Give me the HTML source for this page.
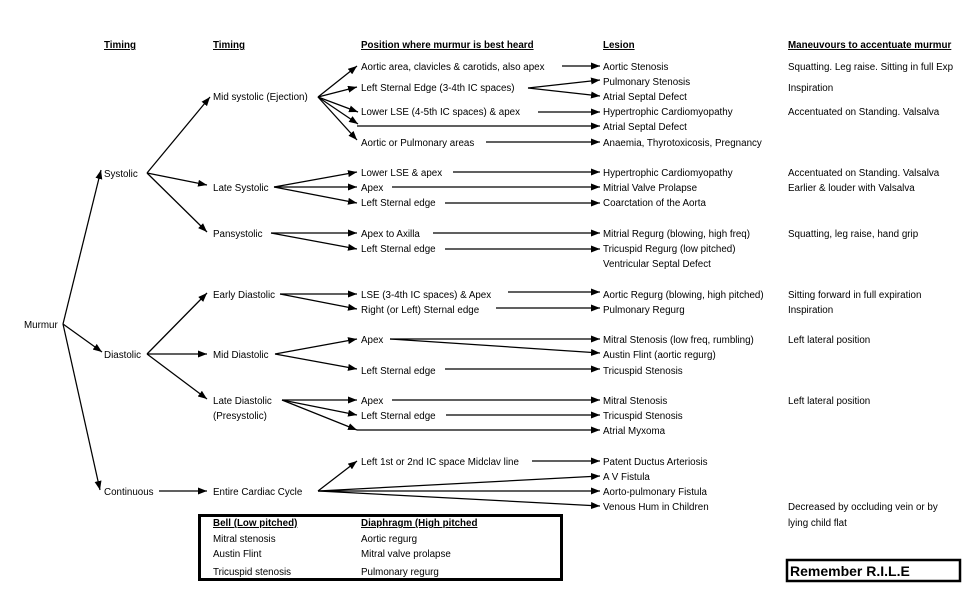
<!DOCTYPE html>
<html><head><meta charset="utf-8"><style>
html,body{margin:0;padding:0;background:#fff;}
svg{display:block;}
text{font-family:"Liberation Sans",Arial,sans-serif;font-size:9.8px;fill:#000;}
.h{font-weight:bold;text-decoration:underline;}
</style></head><body>
<svg width="980" height="597" viewBox="0 0 980 597" xmlns="http://www.w3.org/2000/svg">
<defs><marker id="a" markerWidth="9" markerHeight="7" refX="9" refY="3.5" orient="auto" markerUnits="userSpaceOnUse"><path d="M0,0 L9,3.5 L0,7 z" fill="#000"/></marker></defs>
<g stroke="#000" stroke-width="1.25" fill="none" marker-end="url(#a)">
<line x1="63" y1="324" x2="101" y2="170"/>
<line x1="63" y1="324" x2="102" y2="352"/>
<line x1="63" y1="324" x2="100" y2="490"/>
<line x1="147" y1="173" x2="210" y2="97"/>
<line x1="147" y1="173" x2="207" y2="185"/>
<line x1="147" y1="173" x2="207" y2="232"/>
<line x1="147" y1="354" x2="207" y2="293"/>
<line x1="147" y1="354" x2="207" y2="354"/>
<line x1="147" y1="354" x2="207" y2="399"/>
<line x1="159" y1="491" x2="207" y2="491"/>
<line x1="318" y1="97" x2="357" y2="66"/>
<line x1="318" y1="97" x2="357" y2="87"/>
<line x1="318" y1="97" x2="358" y2="112"/>
<line x1="318" y1="97" x2="358" y2="124"/>
<line x1="318" y1="97" x2="357" y2="140"/>
<line x1="562" y1="66" x2="600" y2="66"/>
<line x1="528" y1="88" x2="600" y2="80"/>
<line x1="528" y1="88" x2="600" y2="96"/>
<line x1="538" y1="112" x2="600" y2="112"/>
<line x1="357" y1="126" x2="600" y2="126"/>
<line x1="486" y1="142" x2="600" y2="142"/>
<line x1="274" y1="187" x2="357" y2="172"/>
<line x1="274" y1="187" x2="357" y2="187"/>
<line x1="274" y1="187" x2="357" y2="203"/>
<line x1="453" y1="172" x2="600" y2="172"/>
<line x1="392" y1="187" x2="600" y2="187"/>
<line x1="445" y1="203" x2="600" y2="203"/>
<line x1="271" y1="233" x2="357" y2="233"/>
<line x1="271" y1="233" x2="357" y2="249"/>
<line x1="433" y1="233" x2="600" y2="233"/>
<line x1="445" y1="249" x2="600" y2="249"/>
<line x1="280" y1="294" x2="357" y2="294"/>
<line x1="280" y1="294" x2="357" y2="309"/>
<line x1="508" y1="292" x2="600" y2="292"/>
<line x1="496" y1="308" x2="600" y2="308"/>
<line x1="275" y1="354" x2="357" y2="339"/>
<line x1="275" y1="354" x2="357" y2="369"/>
<line x1="390" y1="339" x2="600" y2="339"/>
<line x1="390" y1="339" x2="600" y2="353"/>
<line x1="445" y1="369" x2="600" y2="369"/>
<line x1="282" y1="400" x2="357" y2="400"/>
<line x1="282" y1="400" x2="357" y2="415"/>
<line x1="282" y1="400" x2="357" y2="430"/>
<line x1="392" y1="400" x2="600" y2="400"/>
<line x1="446" y1="415" x2="600" y2="415"/>
<line x1="357" y1="430" x2="600" y2="430"/>
<line x1="318" y1="491" x2="357" y2="461"/>
<line x1="532" y1="461" x2="600" y2="461"/>
<line x1="318" y1="491" x2="600" y2="476"/>
<line x1="318" y1="491" x2="600" y2="491"/>
<line x1="318" y1="491" x2="600" y2="506"/>
</g>
<text class="h" x="104" y="48">Timing</text>
<text class="h" x="213" y="48">Timing</text>
<text class="h" x="361" y="48">Position where murmur is best heard</text>
<text class="h" x="603" y="48">Lesion</text>
<text class="h" x="788" y="48">Maneuvours to accentuate murmur</text>
<text x="24" y="328">Murmur</text>
<text x="104" y="177">Systolic</text>
<text x="104" y="358">Diastolic</text>
<text x="104" y="495">Continuous</text>
<text x="213" y="100">Mid systolic (Ejection)</text>
<text x="213" y="191">Late Systolic</text>
<text x="213" y="237">Pansystolic</text>
<text x="213" y="298">Early Diastolic</text>
<text x="213" y="358">Mid Diastolic</text>
<text x="213" y="404">Late Diastolic</text>
<text x="213" y="419">(Presystolic)</text>
<text x="213" y="495">Entire Cardiac Cycle</text>
<text x="361" y="70">Aortic area, clavicles &amp; carotids, also apex</text>
<text x="361" y="91">Left Sternal Edge (3-4th IC spaces)</text>
<text x="361" y="115">Lower LSE (4-5th IC spaces) &amp; apex</text>
<text x="361" y="146">Aortic or Pulmonary areas</text>
<text x="361" y="176">Lower LSE &amp; apex</text>
<text x="361" y="191">Apex</text>
<text x="361" y="206">Left Sternal edge</text>
<text x="361" y="237">Apex to Axilla</text>
<text x="361" y="252">Left Sternal edge</text>
<text x="361" y="298">LSE (3-4th IC spaces) &amp; Apex</text>
<text x="361" y="313">Right (or Left) Sternal edge</text>
<text x="361" y="343">Apex</text>
<text x="361" y="374">Left Sternal edge</text>
<text x="361" y="404">Apex</text>
<text x="361" y="419">Left Sternal edge</text>
<text x="361" y="465">Left 1st or 2nd IC space Midclav line</text>
<text x="603" y="70">Aortic Stenosis</text>
<text x="603" y="85">Pulmonary Stenosis</text>
<text x="603" y="100">Atrial Septal Defect</text>
<text x="603" y="115">Hypertrophic Cardiomyopathy</text>
<text x="603" y="130">Atrial Septal Defect</text>
<text x="603" y="146">Anaemia, Thyrotoxicosis, Pregnancy</text>
<text x="603" y="176">Hypertrophic Cardiomyopathy</text>
<text x="603" y="191">Mitrial Valve Prolapse</text>
<text x="603" y="206">Coarctation of the Aorta</text>
<text x="603" y="237">Mitrial Regurg (blowing, high freq)</text>
<text x="603" y="252">Tricuspid Regurg (low pitched)</text>
<text x="603" y="267">Ventricular Septal Defect</text>
<text x="603" y="298">Aortic Regurg (blowing, high pitched)</text>
<text x="603" y="313">Pulmonary Regurg</text>
<text x="603" y="343">Mitral Stenosis (low freq, rumbling)</text>
<text x="603" y="358">Austin Flint (aortic regurg)</text>
<text x="603" y="374">Tricuspid Stenosis</text>
<text x="603" y="404">Mitral Stenosis</text>
<text x="603" y="419">Tricuspid Stenosis</text>
<text x="603" y="434">Atrial Myxoma</text>
<text x="603" y="465">Patent Ductus Arteriosis</text>
<text x="603" y="480">A V Fistula</text>
<text x="603" y="495">Aorto-pulmonary Fistula</text>
<text x="603" y="510">Venous Hum in Children</text>
<text x="788" y="70">Squatting. Leg raise. Sitting in full Exp</text>
<text x="788" y="91">Inspiration</text>
<text x="788" y="115">Accentuated on Standing. Valsalva</text>
<text x="788" y="176">Accentuated on Standing. Valsalva</text>
<text x="788" y="191">Earlier &amp; louder with Valsalva</text>
<text x="788" y="237">Squatting, leg raise, hand grip</text>
<text x="788" y="298">Sitting forward in full expiration</text>
<text x="788" y="313">Inspiration</text>
<text x="788" y="343">Left lateral position</text>
<text x="788" y="404">Left lateral position</text>
<text x="788" y="510">Decreased by occluding vein or by</text>
<text x="788" y="526">lying child flat</text>
<rect x="199.5" y="515.5" width="362" height="64" fill="none" stroke="#000" stroke-width="3"/>
<text class="h" x="213" y="526">Bell (Low pitched)</text>
<text class="h" x="361" y="526">Diaphragm (High pitched</text>
<text x="213" y="542">Mitral stenosis</text>
<text x="213" y="557">Austin Flint</text>
<text x="213" y="575">Tricuspid stenosis</text>
<text x="361" y="542">Aortic regurg</text>
<text x="361" y="557">Mitral valve prolapse</text>
<text x="361" y="575">Pulmonary regurg</text>
<rect x="787" y="560" width="173" height="21" fill="none" stroke="#000" stroke-width="2.5"/>
<text x="790" y="576" style="font-size:14px;font-weight:bold;">Remember R.I.L.E</text>
</svg>
</body></html>
